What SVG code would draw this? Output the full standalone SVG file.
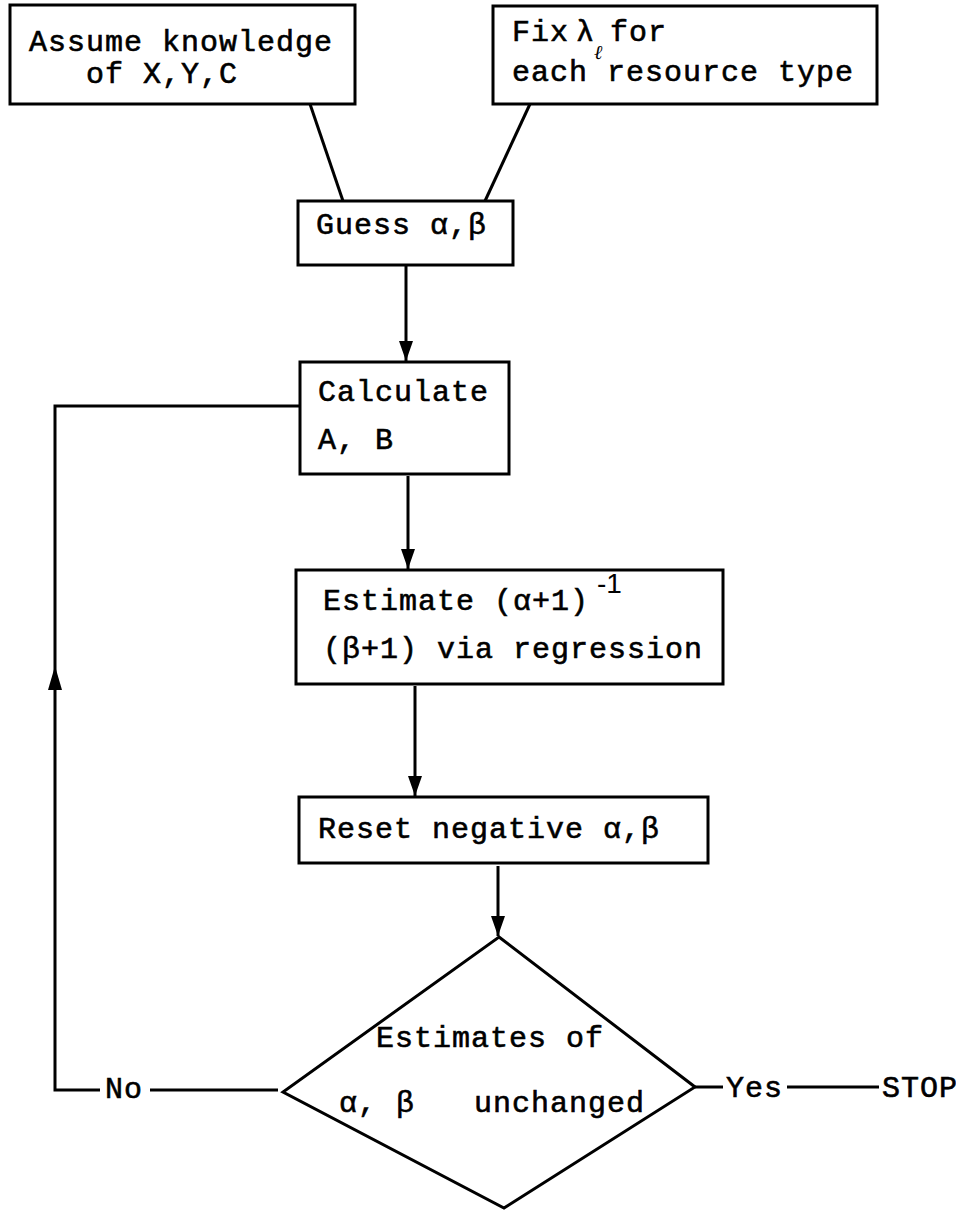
<svg xmlns="http://www.w3.org/2000/svg" width="956" height="1212" viewBox="0 0 956 1212">
<style>
.box{fill:#fff;stroke:#000;stroke-width:3}
.ln{fill:none;stroke:#000;stroke-width:3}
.t{font-family:"Liberation Mono","DejaVu Sans Mono",monospace;font-size:30px;letter-spacing:1px;fill:#000;stroke:#000;stroke-width:0.6}
.s{font-family:"Liberation Serif","DejaVu Serif",serif;font-style:italic;font-size:20px;fill:#000}
.sup{font-family:"Liberation Sans","DejaVu Sans",sans-serif;font-size:28px;fill:#000}
</style>
<defs>
<marker id="ah" markerUnits="userSpaceOnUse" markerWidth="20" markerHeight="14" viewBox="0 0 20 14" refX="20" refY="7" orient="auto">
<path d="M0,0 L20,7 L0,14 Z" fill="#000"/>
</marker>
</defs>
<rect width="956" height="1212" fill="#fff"/>
<g id="connectors">
<line class="ln" x1="310" y1="104" x2="343" y2="201"/>
<line class="ln" x1="530" y1="104" x2="485" y2="201"/>
<line class="ln" x1="406" y1="266" x2="406" y2="361" marker-end="url(#ah)"/>
<line class="ln" x1="408" y1="476" x2="408" y2="569" marker-end="url(#ah)"/>
<line class="ln" x1="415" y1="686" x2="415" y2="796" marker-end="url(#ah)"/>
<line class="ln" x1="498" y1="866" x2="498" y2="936" marker-end="url(#ah)"/>
<line class="ln" x1="278" y1="1090" x2="150" y2="1090"/>
<polyline class="ln" points="100,1090 55,1090 55,406 300,406"/>
<path d="M55,666 L62,690 L48,690 Z" fill="#000"/>
<line class="ln" x1="695" y1="1087" x2="723" y2="1087"/>
<line class="ln" x1="787" y1="1087" x2="879" y2="1087"/>
<text class="t" x="105" y="1098">No</text>
<text class="t" x="726" y="1097">Yes</text>
<text class="t" x="882" y="1097">STOP</text>
</g>
<g id="assume">
<rect class="box" x="10" y="5" width="345" height="99"/>
<text class="t" x="29" y="51">Assume knowledge</text>
<text class="t" x="86" y="83">of X,Y,C</text>
</g>
<g id="fix">
<rect class="box" x="493" y="6" width="384" height="98"/>
<text class="t" x="512" y="41">Fix</text>
<text class="t" x="576" y="41">λ</text>
<text class="s" x="594" y="59">ℓ</text>
<text class="t" x="610" y="41">for</text>
<text class="t" x="512" y="81">each resource type</text>
</g>
<g id="guess">
<rect class="box" x="298" y="201" width="215" height="64"/>
<text class="t" x="316" y="234">Guess α,β</text>
</g>
<g id="calculate">
<rect class="box" x="300" y="362" width="209" height="112"/>
<text class="t" x="318" y="401">Calculate</text>
<text class="t" x="318" y="449">A, B</text>
</g>
<g id="estimate">
<rect class="box" x="296" y="570" width="427" height="114"/>
<text class="t" x="323" y="610">Estimate (α+1)</text>
<text class="sup" x="597" y="593">-1</text>
<text class="t" x="323" y="658">(β+1) via regression</text>
</g>
<g id="reset">
<rect class="box" x="299" y="797" width="409" height="66"/>
<text class="t" x="318" y="838">Reset negative α,β</text>
</g>
<g id="decision">
<polygon class="box" points="499,937 695,1087 504,1208 283,1092"/>
<text class="t" x="376" y="1047">Estimates of</text>
<text class="t" x="339" y="1112">α, β</text>
<text class="t" x="474" y="1112">unchanged</text>
</g>
</svg>
